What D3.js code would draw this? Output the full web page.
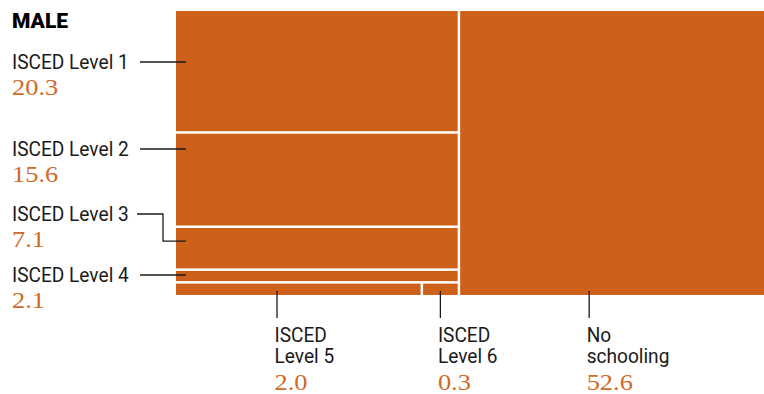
<!DOCTYPE html>
<html><head><meta charset="utf-8">
<script src="https://cdn.jsdelivr.net/npm/d3@7"></script>
<style>body{margin:0;background:#fff}svg{display:block}</style>
</head><body><svg id="c" width="764" height="394"></svg>
<script>
const title = "MALE";
const categories = ["ISCED Level 1","ISCED Level 2","ISCED Level 3","ISCED Level 4","ISCED Level 5","ISCED Level 6","No schooling"];
const values = [20.3, 15.6, 7.1, 2.1, 2.0, 0.3, 52.6];
const valueLabels = ["20.3","15.6","7.1","2.1","2.0","0.3","52.6"];
const leftColumn = ["ISCED Level 1","ISCED Level 2","ISCED Level 3","ISCED Level 4"];
const bottomRow = ["ISCED Level 5","ISCED Level 6"];
const rightBlock = ["No schooling"];
const bottomLines = {"ISCED Level 5":["ISCED","Level 5"],"ISCED Level 6":["ISCED","Level 6"],"No schooling":["No","schooling"]};

// layout / style
const FILL = "#cd6119", VALUE_COL = "#d06a26", INK = "#1a1a1a";
const LBL_FONT = "Roboto, sans-serif", VAL_FONT = "'Liberation Serif', serif";
const LBL_SIZE = 21, LBL_SX = 0.91, VAL_SIZE = 24, VAL_SX = 1.1;
const ox = 176, oy = 11, W = 597, H = 284;
const leftLineY = {"ISCED Level 1":62,"ISCED Level 2":149,"ISCED Level 3":214,"ISCED Level 4":275};
const bottomTickOffset = {"ISCED Level 5":101,"ISCED Level 6":null,"No schooling":129};

const val = new Map(categories.map((c,i)=>[c, values[i]]));
const lab = new Map(categories.map((c,i)=>[c, valueLabels[i]]));
const leaf = n => ({name:n, value:val.get(n)});
const data = {name:"root", children:[
  {name:"left", children:[...leftColumn.map(leaf), {name:"row", children:bottomRow.map(leaf)}]},
  ...rightBlock.map(leaf)
]};
const root = d3.hierarchy(data).sum(d => d.value || 0);
d3.treemap().tile(d3.treemapSliceDice).size([W,H]).paddingInner(2.5)(root);
const leaves = root.leaves();
const node = new Map(leaves.map(d=>[d.data.name, d]));

const svg = d3.select("#c");
svg.append("text").attr("x",12).attr("y",28).attr("font-family",LBL_FONT)
  .attr("font-weight",900).attr("font-size",21).attr("fill","#000").text(title);

const g = svg.append("g").attr("transform",`translate(${ox},${oy})`);
g.selectAll("rect").data(leaves).join("rect")
  .attr("x",d=>d.x0).attr("y",d=>d.y0)
  .attr("width",d=>d.x1-d.x0).attr("height",d=>d.y1-d.y0)
  .attr("fill",FILL);

function lbl(x,y,lines){
  const t = svg.append("text").attr("transform",`translate(${x},${y}) scale(${LBL_SX},1)`)
    .attr("font-family",LBL_FONT).attr("font-size",LBL_SIZE).attr("fill",INK);
  [].concat(lines).forEach((s,i)=>t.append("tspan").attr("x",0).attr("dy",i?21.5:0).text(s));
  return t;
}
function vlbl(x,y,t){
  return svg.append("text").attr("transform",`translate(${x},${y}) scale(${VAL_SX},1)`)
    .attr("font-family",VAL_FONT).attr("font-size",VAL_SIZE).attr("fill",VALUE_COL).text(t);
}

// left labels
leftColumn.forEach(n=>{
  const d = node.get(n);
  const ly = leftLineY[n];
  lbl(12, ly+7, n);
  vlbl(12, ly+33, lab.get(n));
  const xEnd = ox + d.x0 + 10;
  const cy = oy + (d.y0+d.y1)/2;
  let pts;
  if (n === "ISCED Level 3") pts = [[137,ly],[163,ly],[163,cy-7],[xEnd,cy-7]];
  else pts = [[140,ly],[xEnd,ly]];
  svg.append("path").attr("d",d3.line()(pts)).attr("fill","none").attr("stroke",INK).attr("stroke-width",1.3);
});

// bottom labels
[...bottomRow, ...rightBlock].forEach(n=>{
  const d = node.get(n);
  const off = bottomTickOffset[n];
  const tx = ox + (off==null ? (d.x0+d.x1)/2 : d.x0+off);
  const by = oy + d.y1;
  svg.append("line").attr("x1",tx).attr("x2",tx).attr("y1",by-4).attr("y2",by+23)
    .attr("stroke",INK).attr("stroke-width",1.3);
  lbl(tx-2.5, 342, bottomLines[n]);
  vlbl(tx-2.5, 389.5, lab.get(n));
});
</script></body></html>
